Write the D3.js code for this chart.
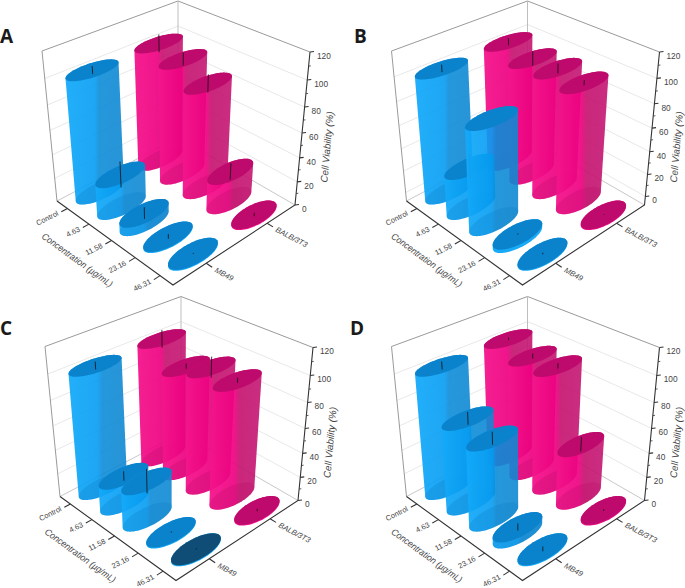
<!DOCTYPE html>
<html>
<head>
<meta charset="utf-8">
<script src="https://d3js.org/d3.v7.min.js"></script>
<style>
  html, body { margin: 0; padding: 0; background: #fff; }
  text { font-family: "Liberation Sans", Arial, sans-serif; fill: #444; }
</style>
</head>
<body>
<div id="chart"></div>
<script>
const concentrations = ['Control', '4.63', '11.58', '23.16', '46.31'];
const cellLines = ['MB49', 'BALB/3T3'];
const zTicks = [0, 20, 40, 60, 80, 100, 120];
const zMinorTicks = [10, 30, 50, 70, 90, 110];

const panelNames = ['A', 'B', 'C', 'D'];
const mb49A = [100, 27, 7, 0, 0];
const balbA = [100, 96, 86, 25, 0];
const mb49B = [100, 28, 80, -5, -8];
const balbB = [100, 95, 96, 94, -8];
const mb49C = [100, 22, 30, 0, 0];
const balbC = [100, 87, 95, 94, 0];
const mb49D = [100, 69, 64, 5, 0];
const balbD = [100, 95, 96, 44, 0];
const mb49ErrA = [3, 11, 5, 2, 0.4];
const balbErrA = [7, 5, 7, 7, 1.5];
const mb49ErrB = [3, 11, 0, 0.5, 0.7];
const balbErrB = [3, 6, 4, 2, 0.3];
const mb49ErrC = [3, 4, 10, 0.5, 0.5];
const balbErrC = [7, 2, 8, 2, 1];
const mb49ErrD = [3, 5, 5, 3, 2];
const balbErrD = [1, 2, 2, 6, 0.7];
const zFloors = [0, -8, 0, 0];

const values = [[mb49A, balbA], [mb49B, balbB], [mb49C, balbC], [mb49D, balbD]];
const errors = [[mb49ErrA, balbErrA], [mb49ErrB, balbErrB], [mb49ErrC, balbErrC], [mb49ErrD, balbErrD]];

const width = 685, height = 588;
const panelPos = [[0, 0], [349.5, 0], [3, 295.5], [349.5, 295.5]];
const letterPos = [[0, 43], [354, 43], [0, 335], [350, 335]];

// wall / floor corners: left, front, right, back
const floorQuad = [[57, 201], [173, 285], [295, 205], [178, 137.5]];
const topQuad = [[42, 51], [174, 114], [310, 52], [178, 1]];

function homography(q) {
  const [[x0, y0], [x1, y1], [x2, y2], [x3, y3]] = q;
  const dx1 = x1 - x2, dx2 = x3 - x2, sx = x0 - x1 + x2 - x3;
  const dy1 = y1 - y2, dy2 = y3 - y2, sy = y0 - y1 + y2 - y3;
  const den = dx1 * dy2 - dx2 * dy1;
  const g = (sx * dy2 - dx2 * sy) / den, h = (dx1 * sy - sx * dy1) / den;
  const a = x1 - x0 + g * x1, b = x3 - x0 + h * x3;
  const d = y1 - y0 + g * y1, e = y3 - y0 + h * y3;
  return (u, v) => {
    const k = g * u + h * v + 1;
    return [(a * u + b * v + x0) / k, (d * u + e * v + y0) / k];
  };
}
const floorMap = homography(floorQuad), topMap = homography(topQuad);
const persp = 0.11;

function project(u, v, w) {
  const t = w * (1 - persp) / (1 - persp * w);
  const p = floorMap(u, v), q = topMap(u, v);
  return [p[0] + (q[0] - p[0]) * t, p[1] + (q[1] - p[1]) * t];
}

const uScale = d3.scaleBand().domain(concentrations).range([0, 1]);
const vScale = d3.scaleBand().domain(cellLines).range([0, 1]);
const radiusU = 0.076, radiusV = 0.178;

const svg = d3.select('#chart').append('svg').attr('width', width).attr('height', height);
const defs = svg.append('defs');

function sideGradient(id, stops) {
  const g = defs.append('linearGradient').attr('id', id);
  stops.forEach(s => g.append('stop').attr('offset', s[0]).attr('stop-color', s[1]).attr('stop-opacity', s[2]));
}
sideGradient('side-blue', [[0, '#14aafa', 0.94], [0.5, '#059cf2', 0.9], [0.58, '#0c8cd8', 0.9], [1, '#1088d2', 0.9]]);
sideGradient('side-pink', [[0, '#f5148c', 0.95], [0.48, '#ee0080', 0.92], [0.58, '#c40f6c', 0.9], [1, '#c41672', 0.9]]);

const palette = {
  'MB49': { side: 'url(#side-blue)', top: '#0b82cc', base: '#0a7fc6', rim: '#18aaf6' },
  'BALB/3T3': { side: 'url(#side-pink)', top: '#be0a6c', base: '#b90c68', rim: '#ee1088' }
};

const line = d3.line();
const ringAngles = d3.range(0, 2 * Math.PI, Math.PI / 36);

panelNames.forEach((name, pi) => {
  const g = svg.append('g').attr('transform', `translate(${panelPos[pi]})`);
  const zScale = d3.scaleLinear().domain([zFloors[pi], 120]).range([0, 1]);
  const P = (u, v, z) => project(u, v, zScale(z));
  const zMin = zFloors[pi];

  // walls
  const grid = g.append('g').attr('fill', 'none').attr('stroke', '#e2e2e2').attr('stroke-width', 0.8);
  zTicks.filter(z => z > zMin && z < 120).forEach(z => {
    grid.append('path').attr('d', line([P(0, 0, z), P(0, 1, z), P(1, 1, z)]));
  });
  const frame = g.append('g').attr('fill', 'none').attr('stroke', '#9a9a9a').attr('stroke-width', 1);
  frame.append('path').attr('d', line([P(0, 0, zMin), P(0, 0, 120), P(0, 1, 120), P(1, 1, 120)]));
  frame.append('path').attr('d', line([P(0, 1, zMin), P(0, 1, 120)])).attr('stroke', '#bdbdbd');
  frame.append('path').attr('d', line([P(0, 0, zMin), P(0, 1, zMin), P(1, 1, zMin)])).attr('stroke', '#c8c8c8');

  // axes
  const ax = g.append('g').attr('fill', 'none').attr('stroke', '#333').attr('stroke-width', 1.1);
  ax.append('path').attr('d', line([P(0, 0, zMin), P(1, 0, zMin), P(1, 1, zMin), P(1, 1, 120)]));

  concentrations.forEach(c => {
    const u = uScale(c) + uScale.bandwidth() / 2;
    ax.append('path').attr('d', line([P(u, 0, zMin), P(u, -0.045, zMin)]));
    const p = P(u, -0.07, zMin);
    g.append('text').attr('transform', `translate(${p[0]},${p[1] - 1}) rotate(-27)`)
      .attr('text-anchor', 'end').attr('dy', '0.35em').attr('font-size', 7.4).text(c);
  });
  cellLines.forEach(c => {
    const v = vScale(c) + vScale.bandwidth() / 2;
    ax.append('path').attr('d', line([P(1, v, zMin), P(1.045, v, zMin)]));
    const p = P(1.07, v, zMin);
    g.append('text').attr('transform', `translate(${p}) rotate(28)`)
      .attr('dy', '0.35em').attr('font-size', 7.6).attr('font-style', 'italic').text(c);
  });
  zTicks.filter(z => z >= zMin).forEach(z => {
    const p = P(1, 1, z);
    ax.append('path').attr('d', line([p, [p[0] + 4, p[1] - 0.5]]));
    g.append('text').attr('x', p[0] + 7).attr('y', p[1] + 4).attr('dy', '0.35em')
      .attr('font-size', 8.3).text(z);
  });
  zMinorTicks.forEach(z => {
    const p = P(1, 1, z);
    ax.append('path').attr('d', line([p, [p[0] + 2.2, p[1] - 0.3]])).attr('stroke-width', 0.8);
  });

  g.append('text').attr('transform', 'translate(43,235) rotate(36)').attr('dy', '0.35em')
    .attr('font-size', 9.3).attr('font-style', 'italic')
    .attr('textLength', 85).attr('lengthAdjust', 'spacingAndGlyphs').text('Concentration (µg/mL)');
  g.append('text').attr('transform', 'translate(327,147) rotate(-85)').attr('text-anchor', 'middle')
    .attr('dy', '0.35em').attr('font-size', 9.8).attr('font-style', 'italic').text('Cell Viability (%)');

  // bars, back to front
  [1, 0].forEach(si => {
    const c = cellLines[si], col = palette[c];
    const v0 = vScale(c) + vScale.bandwidth() / 2;
    concentrations.forEach((conc, i) => {
      const val = values[pi][si][i], err = errors[pi][si][i];
      const u0 = uScale(conc) + uScale.bandwidth() / 2;
      const ring = z => ringAngles.map(a => P(u0 + radiusU * Math.cos(a), v0 + radiusV * Math.sin(a), z));
      const base = ring(zMin);
      const bar = g.append('g');
      const flatDark = (pi === 2 && si === 0 && i === 4);
      // a bar at the floor keeps only a thin lit edge under its top
      const shown = Math.max(val, zMin + 0.8);
      const tall = val > zMin + 3;
      bar.append('path').attr('d', line(d3.polygonHull(base.concat(ring(shown))))).attr('fill', tall ? col.side : col.rim);
      if (tall) bar.append('path').attr('d', line(base) + 'Z').attr('fill', col.base).attr('fill-opacity', 0.28);
      bar.append('path').attr('d', line(ring(shown)) + 'Z').attr('fill', flatDark ? '#0f4d76' : col.top);
      bar.append('path').attr('d', line([P(u0, v0, shown - err), P(u0, v0, shown + err)]))
        .attr('stroke', '#111').attr('stroke-opacity', 0.8).attr('stroke-width', 1).attr('fill', 'none');
    });
  });
});

svg.selectAll('.letter').data(panelNames).enter().append('text')
  .attr('class', 'letter')
  .attr('x', (d, i) => letterPos[i][0])
  .attr('y', (d, i) => letterPos[i][1])
  .attr('font-size', 19).attr('font-weight', 700)
  .style('font-family', '"Open Sans", sans-serif').style('fill', '#1a1a1a')
  .text(d => d);
</script>
</body>
</html>
